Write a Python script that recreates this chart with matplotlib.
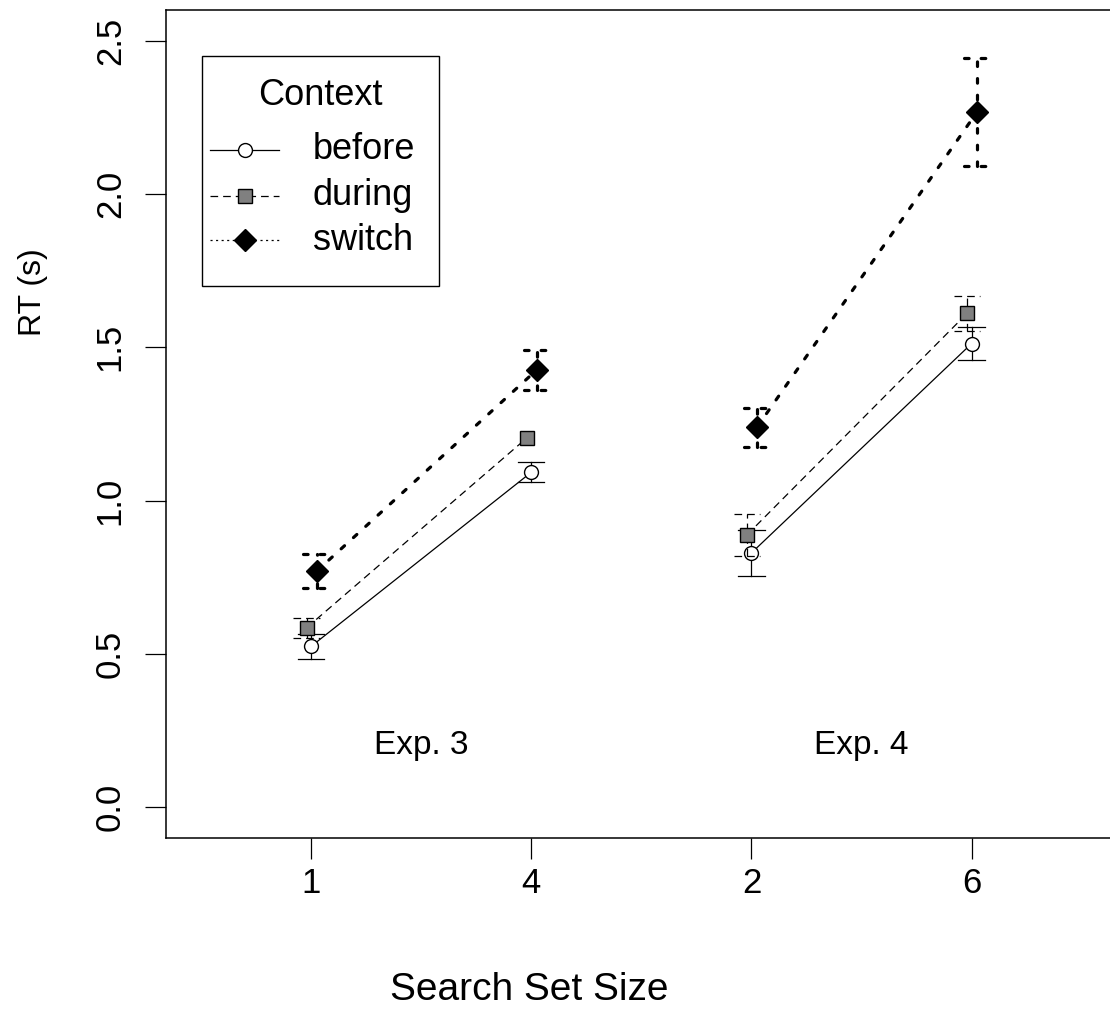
import matplotlib
matplotlib.use("Agg")
import matplotlib.pyplot as plt
from matplotlib.patches import Rectangle
import numpy as np

plt.rcParams['font.family'] = ['Liberation Sans', 'DejaVu Sans']
plt.rcParams['lines.scale_dashes'] = False

# data
positions = [1, 2, 3, 4]
tick_labels = ["1", "4", "2", "6"]
exp_labels = ["Exp. 3", "Exp. 4"]
series_names = ["before", "during", "switch"]
before_rt = [0.524, 1.092, 0.829, 1.512]
before_err = [0.041, 0.033, 0.076, 0.055]
during_rt = [0.585, 1.204, 0.888, 1.611]
during_err = [0.033, 0.0, 0.068, 0.057]
switch_rt = [0.769, 1.426, 1.239, 2.268]
switch_err = [0.055, 0.066, 0.063, 0.177]

# small horizontal jitter so the groups don't overlap
offsets = {"before": 0.0, "during": -0.02, "switch": 0.025}

styles = {
    "before": dict(color="black", lw=0.9, linestyle="-"),
    "during": dict(color="black", lw=0.9, linestyle=(0, (5.5, 3.6))),
    "switch": dict(color="black", lw=2.3, linestyle=(0, (3.3, 8.7)),
                   dash_capstyle="round"),
}
# thin versions used in the legend
legend_styles = {
    "before": dict(color="black", lw=0.9, linestyle="-"),
    "during": dict(color="black", lw=0.9, linestyle=(0, (5.5, 3.6))),
    "switch": dict(color="black", lw=0.9, linestyle=(0, (1.5, 2.5))),
}
markers = {
    "before": dict(marker="o", ms=10, mfc="white", mec="black", mew=1.0),
    "during": dict(marker="s", ms=9.5, mfc="#808080", mec="black", mew=1.0),
    "switch": dict(marker="D", ms=11, mfc="black", mec="black", mew=1.0),
}
data = {
    "before": (before_rt, before_err),
    "during": (during_rt, during_err),
    "switch": (switch_rt, switch_err),
}

fig = plt.figure(figsize=(11.1, 10.11), dpi=100)
ax = fig.add_axes([0.1493, 0.1714, 0.8570, 0.8187])

cap_w = 0.06
z = 2
for name in series_names:
    rt, err = data[name]
    xs = np.array(positions) + offsets[name]
    st = styles[name]
    # error bars first, then the line and points on top
    for x, y, e in zip(xs, rt, err):
        if e <= 0:
            continue  # R skips zero-length arrows
        ax.plot([x, x], [y - e, y + e], zorder=z, **st)
        ax.plot([x - cap_w, x, x + cap_w], [y + e] * 3, zorder=z, **st)
        ax.plot([x - cap_w, x, x + cap_w], [y - e] * 3, zorder=z, **st)
    # connect the two set sizes within each experiment
    for i in (0, 2):
        ax.plot(xs[i:i + 2], rt[i:i + 2], zorder=z, **st)
    ax.plot(xs, rt, linestyle="none", zorder=z + 1, **markers[name])
    z += 2

for i, lab in enumerate(exp_labels):
    ax.text(positions[2 * i] + 0.5, 0.2, lab, ha="center", va="center",
            fontsize=24)

ax.set_xlim(0.34, 4.66)
ax.set_ylim(-0.1, 2.6)
ax.set_xticks(positions)
ax.set_xticklabels(tick_labels)
ax.set_yticks([0.0, 0.5, 1.0, 1.5, 2.0, 2.5])
ax.set_yticklabels(["0.0", "0.5", "1.0", "1.5", "2.0", "2.5"],
                   rotation=90, va="center")
ax.tick_params(axis="both", direction="out", length=15, width=0.9,
               labelsize=25)
ax.tick_params(axis="x", pad=6)
ax.tick_params(axis="y", pad=13)
for sp in ax.spines.values():
    sp.set_linewidth(1.1)

ax.set_xlabel("Search Set Size", fontsize=28)
ax.xaxis.set_label_coords(0.382, -0.162)
ax.set_ylabel("RT (s)", fontsize=23)
ax.yaxis.set_label_coords(-0.124, 0.659)

# legend drawn by hand (R style box), positions in axes fraction
tr = ax.transAxes
ax.add_patch(Rectangle((0.0378, 0.6665), 0.2498, 0.2779, transform=tr,
                       facecolor="white", edgecolor="black", lw=1.0,
                       zorder=10))
ax.text(0.1627, 0.8973, "Context", transform=tr, ha="center", va="center",
        fontsize=26, zorder=11)
leg_y = [0.8309, 0.7756, 0.7221]
for name, yy in zip(series_names, leg_y):
    ax.plot([0.0466, 0.1194], [yy, yy], transform=tr, zorder=11,
            clip_on=False, **legend_styles[name])
    ax.plot([0.0834], [yy], transform=tr, zorder=12, linestyle="none",
            clip_on=False, **markers[name])
    ax.text(0.1548, yy, name, transform=tr, ha="left", va="center",
            fontsize=26, zorder=11)

fig.savefig("out.png", dpi=100)
